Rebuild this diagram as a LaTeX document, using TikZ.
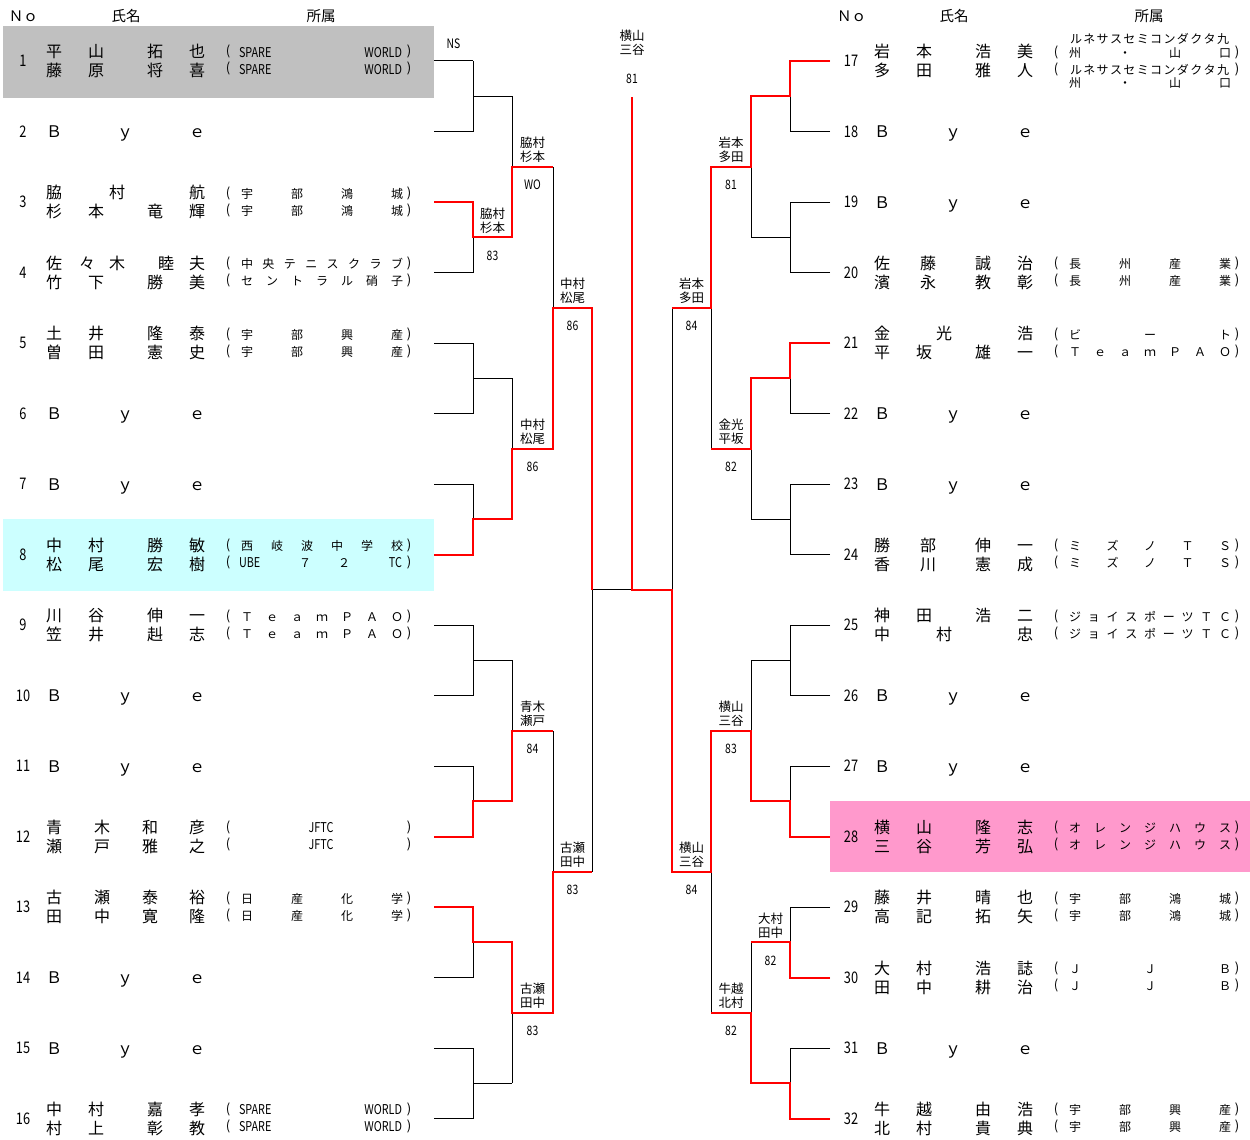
\documentclass[tikz,border=0pt]{standalone}
\usepackage{fontspec}
\setmainfont{Noto Sans CJK JP}
\usetikzlibrary{calc}
\definecolor{winred}{RGB}{255,0,0}
\definecolor{hlgray}{RGB}{192,192,192}
\definecolor{hlcyan}{RGB}{204,255,255}
\definecolor{hlpink}{RGB}{255,153,204}
\newcommand\cnd[1]{\scalebox{0.8}[1]{#1}}
\newcommand\setrow[1]{%
  \pgfmathsetmacro\Ryc{61+(#1-1)*70.5}%
  \pgfmathsetmacro\Rna{\Ryc-9.5}%
  \pgfmathsetmacro\Rnb{\Ryc+9.5}%
  \pgfmathsetmacro\Raa{\Ryc-8.5}%
  \pgfmathsetmacro\Rab{\Ryc+8.5}}
\newcommand\pno[2]{\node[num] (#1) at (23+\ox,\Ryc) {\cnd{#2}};}
\newcommand\nml[3]{\foreach \px/\ch [count=\ci] in {#3}{\node[nm] (#1-\ci) at (\px+\ox,#2) {\ch};}}
\newcommand\stdn[6]{\nml{#1}{#2}{54/#3,96/#4,155/#5,197/#6}}
\newcommand\bye[1]{\nml{#1}{\Ryc}{54/Ｂ,125/ｙ,197/ｅ}}
\newcommand\dst[5]{%
  \foreach \t [count=\ci] in {#5}{\xdef\dstn{\ci}}%
  \foreach \t [count=\ci] in {#5}{%
    \pgfmathsetmacro\xx{#3+(#4-#3)*(\ci-1)/max(\dstn-1,1)+\ox}%
    \node[af] (#1-\ci) at (\xx,#2) {\t};}}
\newcommand\paren[2]{\node[par] (#1-l) at (228+\ox,#2) {(};\node[par] (#1-r) at (409+\ox,#2) {)};}
\newcommand\aff[3]{\paren{#1}{#2}\dst{#1}{#2}{247}{397}{#3}}
\newcommand\spw[2]{\paren{#1}{#2}%
  \node[afl,anchor=west] (#1-a) at (239+\ox,#2) {\cnd{SPARE}};%
  \node[afl,anchor=east] (#1-b) at (402+\ox,#2) {\cnd{WORLD}};}
\newcommand\mlab[6]{%
  \node[lbl] (#1lab-#2-#3a) at ($(#1S-#2-#3)!0.5!(#1E-#2-#3)+(0,-24)$) {#4};
  \node[lbl] (#1lab-#2-#3b) at ($(#1S-#2-#3)!0.5!(#1E-#2-#3)+(0,-10)$) {#5};
  \node[sc] (#1scr-#2-#3) at ($(#1S-#2-#3)!0.5!(#1E-#2-#3)+(0,18)$) {\cnd{#6}};}
\begin{document}
\begin{tikzpicture}[x=1pt,y=-1pt,
  blk/.style={line width=1pt,draw=black},
  win/.style={line width=2pt,draw=winred},
  txt/.style={inner sep=0pt,outer sep=0pt,text=black},
  nm/.style={txt,font=\fontsize{16}{16}\selectfont,text height=14pt,text depth=2pt},
  af/.style={txt,font=\fontsize{12}{12}\selectfont,text height=10.5pt,text depth=1.5pt},
  afl/.style={txt,font=\fontsize{13.5}{13.5}\selectfont,text height=10.8pt,text depth=1pt},
  par/.style={txt,font=\fontsize{13}{13}\selectfont,text height=10pt,text depth=3pt},
  num/.style={txt,font=\fontsize{16}{16}\selectfont,text height=11.7pt,text depth=0pt},
  hdr/.style={txt,font=\fontsize{14.5}{14.5}\selectfont,text height=13pt,text depth=2pt},
  lbl/.style={txt,font=\fontsize{12.5}{12.5}\selectfont,text height=11pt,text depth=1.5pt},
  sc/.style={txt,font=\fontsize{13}{13}\selectfont,text height=9.5pt,text depth=0pt}]
\useasboundingbox (0,0) rectangle (1250,1140);
\fill[white] (0,0) rectangle (1250,1140);
% highlights
\fill[hlgray] (3,26) rectangle (434,97.5);
\fill[hlcyan] (3,519) rectangle (434,590.5);
\fill[hlpink] (830,801) rectangle (1250,871.5);
% headers
\node[hdr] (hN1) at (23.5,16) {Ｎｏ};
\node[hdr] (hS1) at (126,16) {氏名};
\node[hdr] (hA1) at (321,16) {所属};
\node[hdr] (hN2) at (851.5,16) {Ｎｏ};
\node[hdr] (hS2) at (954,16) {氏名};
\node[hdr] (hA2) at (1149,16) {所属};
% bracket coordinates
\foreach \r/\n/\ys/\dy in {0/16/61/70.5,1/8/96.25/141,2/4/166.75/282,3/2/307.75/564,4/1/589.75/0}{
  \pgfmathsetmacro\xa{{434,473,512,553,592,632}[\r]}
  \pgfmathsetmacro\xb{{434,473,512,553,592,632}[\r+1]}
  \pgfmathsetmacro\xc{{830,790,751,711,672,632}[\r]}
  \pgfmathsetmacro\xd{{830,790,751,711,672,632}[\r+1]}
  \foreach \k in {1,...,\n}{
    \pgfmathsetmacro\yy{\ys+(\k-1)*\dy}
    \coordinate (LS-\r-\k) at (\xa,\yy);
    \coordinate (LE-\r-\k) at (\xb,\yy);
    \coordinate (RS-\r-\k) at (\xc,\yy);
    \coordinate (RE-\r-\k) at (\xd,\yy);
  }
}
\coordinate (TOP) at (632,96.75);
% black structure
\foreach \r/\n in {0/16,1/8,2/4,3/2,4/1}{
  \foreach \k in {1,...,\n}{
    \draw[blk] (LS-\r-\k) -- (LE-\r-\k);
    \draw[blk] (RS-\r-\k) -- (RE-\r-\k);
  }
}
\foreach \r/\m in {0/8,1/4,2/2,3/1}{
  \foreach \k in {1,...,\m}{
    \pgfmathtruncatemacro\ka{2*\k-1}
    \pgfmathtruncatemacro\kb{2*\k}
    \draw[blk] (LE-\r-\ka) -- (LE-\r-\kb);
    \draw[blk] (RE-\r-\ka) -- (RE-\r-\kb);
  }
}
% winners (red)
\draw[win] (LS-0-3) -- (LE-0-3) |- (LE-1-2) |- (LE-2-1);
\draw[win] (LS-0-8) -- (LE-0-8) |- (LE-1-4) |- (LE-2-2) |- (LE-3-1) -- (LS-4-1);
\draw[win] (LS-0-12) -- (LE-0-12) |- (LE-1-6) |- (LE-2-3);
\draw[win] (LS-0-13) -- (LE-0-13) |- (LE-1-7) |- (LE-2-4) |- (LE-3-2);
\draw[win] (RS-0-1) -- (RE-0-1) |- (RE-1-1) |- (RE-2-1) |- (RE-3-1);
\draw[win] (RS-0-5) -- (RE-0-5) |- (RE-1-3) |- (RE-2-2);
\draw[win] (RS-0-12) -- (RE-0-12) |- (RE-1-6) |- (RE-2-3) |- (RE-3-2) -- (RS-4-1) -- (RE-4-1) -- (TOP);
\draw[win] (RS-0-14) -- (RE-0-14) |- (RE-1-7);
\draw[win] (RS-0-16) -- (RE-0-16) |- (RE-1-8) |- (RE-2-4);
% match labels
\node[sc] (lNS) at ($(LS-0-1)!0.5!(LE-0-1)+(0,-17)$) {\cnd{NS}};
\mlab{L}{1}{2}{脇村}{杉本}{83}
\mlab{L}{2}{1}{脇村}{杉本}{WO}
\mlab{L}{2}{2}{中村}{松尾}{86}
\mlab{L}{3}{1}{中村}{松尾}{86}
\mlab{L}{2}{3}{青木}{瀬戸}{84}
\mlab{L}{2}{4}{古瀬}{田中}{83}
\mlab{L}{3}{2}{古瀬}{田中}{83}
\mlab{R}{2}{1}{岩本}{多田}{81}
\mlab{R}{3}{1}{岩本}{多田}{84}
\mlab{R}{2}{2}{金光}{平坂}{82}
\mlab{R}{2}{3}{横山}{三谷}{83}
\mlab{R}{3}{2}{横山}{三谷}{84}
\mlab{R}{1}{7}{大村}{田中}{82}
\mlab{R}{2}{4}{牛越}{北村}{82}
\node[lbl] (chA) at ($(TOP)+(0,-61)$) {横山};
\node[lbl] (chB) at ($(TOP)+(0,-47)$) {三谷};
\node[sc] (chS) at ($(TOP)+(0,-18)$) {\cnd{81}};
% ---------------- left players
\def\ox{0}
\setrow{1}\pno{n1}{1}
\stdn{p1a}{\Rna}{平}{山}{拓}{也}
\stdn{p1b}{\Rnb}{藤}{原}{将}{喜}
\spw{a1a}{\Raa}\spw{a1b}{\Rab}
\setrow{2}\pno{n2}{2}\bye{p2}
\setrow{3}\pno{n3}{3}
\nml{p3a}{\Rna}{54/脇,117/村,197/航}
\stdn{p3b}{\Rnb}{杉}{本}{竜}{輝}
\aff{a3a}{\Raa}{宇,部,鴻,城}\aff{a3b}{\Rab}{宇,部,鴻,城}
\setrow{4}\pno{n4}{4}
\nml{p4a}{\Rna}{54/佐,87/々,117/木,166/睦,197/夫}
\stdn{p4b}{\Rnb}{竹}{下}{勝}{美}
\aff{a4a}{\Raa}{中,央,テ,ニ,ス,ク,ラ,ブ}\aff{a4b}{\Rab}{セ,ン,ト,ラ,ル,硝,子}
\setrow{5}\pno{n5}{5}
\stdn{p5a}{\Rna}{土}{井}{隆}{泰}
\stdn{p5b}{\Rnb}{曽}{田}{憲}{史}
\aff{a5a}{\Raa}{宇,部,興,産}\aff{a5b}{\Rab}{宇,部,興,産}
\setrow{6}\pno{n6}{6}\bye{p6}
\setrow{7}\pno{n7}{7}\bye{p7}
\setrow{8}\pno{n8}{8}
\stdn{p8a}{\Rna}{中}{村}{勝}{敏}
\stdn{p8b}{\Rnb}{松}{尾}{宏}{樹}
\aff{a8a}{\Raa}{西,岐,波,中,学,校}
\paren{a8b}{\Rab}
\node[afl,anchor=west] (a8b-1) at (239+\ox,\Rab) {\cnd{UBE}};
\node[af] (a8b-2) at (305+\ox,\Rab) {７};
\node[af] (a8b-3) at (344+\ox,\Rab) {２};
\node[afl,anchor=east] (a8b-4) at (402+\ox,\Rab) {\cnd{TC}};
\setrow{9}\pno{n9}{9}
\stdn{p9a}{\Rna}{川}{谷}{伸}{一}
\stdn{p9b}{\Rnb}{笠}{井}{赳}{志}
\aff{a9a}{\Raa}{Ｔ,ｅ,ａ,ｍ,Ｐ,Ａ,Ｏ}\aff{a9b}{\Rab}{Ｔ,ｅ,ａ,ｍ,Ｐ,Ａ,Ｏ}
\setrow{10}\pno{n10}{10}\bye{p10}
\setrow{11}\pno{n11}{11}\bye{p11}
\setrow{12}\pno{n12}{12}
\nml{p12a}{\Rna}{54/青,102/木,150/和,197/彦}
\nml{p12b}{\Rnb}{54/瀬,102/戸,150/雅,197/之}
\paren{a12a}{\Raa}\node[afl] (a12a-1) at (321+\ox,\Raa) {\cnd{JFTC}};
\paren{a12b}{\Rab}\node[afl] (a12b-1) at (321+\ox,\Rab) {\cnd{JFTC}};
\setrow{13}\pno{n13}{13}
\nml{p13a}{\Rna}{54/古,102/瀬,150/泰,197/裕}
\nml{p13b}{\Rnb}{54/田,102/中,150/寛,197/隆}
\aff{a13a}{\Raa}{日,産,化,学}\aff{a13b}{\Rab}{日,産,化,学}
\setrow{14}\pno{n14}{14}\bye{p14}
\setrow{15}\pno{n15}{15}\bye{p15}
\setrow{16}\pno{n16}{16}
\stdn{p16a}{\Rna}{中}{村}{嘉}{孝}
\stdn{p16b}{\Rnb}{村}{上}{彰}{教}
\spw{a16a}{\Raa}\spw{a16b}{\Rab}
% ---------------- right players
\def\ox{828}
\setrow{1}\pno{n17}{17}
\stdn{p17a}{\Rna}{岩}{本}{浩}{美}
\stdn{p17b}{\Rnb}{多}{田}{雅}{人}
\dst{a17x}{\Ryc-22}{248}{395}{ル,ネ,サ,ス,セ,ミ,コ,ン,ダ,ク,タ,九}
\paren{a17y}{\Ryc-8}\dst{a17y}{\Ryc-8}{247}{397}{州,・,山,口}
\paren{a17z}{\Ryc+9}\dst{a17z}{\Ryc+9}{248}{395}{ル,ネ,サ,ス,セ,ミ,コ,ン,ダ,ク,タ,九}
\dst{a17w}{\Ryc+22}{247}{397}{州,・,山,口}
\setrow{2}\pno{n18}{18}\bye{p18}
\setrow{3}\pno{n19}{19}\bye{p19}
\setrow{4}\pno{n20}{20}
\nml{p20a}{\Rna}{54/佐,100/藤,155/誠,197/治}
\nml{p20b}{\Rnb}{54/濱,100/永,155/教,197/彰}
\aff{a20a}{\Raa}{長,州,産,業}\aff{a20b}{\Rab}{長,州,産,業}
\setrow{5}\pno{n21}{21}
\nml{p21a}{\Rna}{54/金,116/光,197/浩}
\stdn{p21b}{\Rnb}{平}{坂}{雄}{一}
\aff{a21a}{\Raa}{ビ,ー,ト}\aff{a21b}{\Rab}{Ｔ,ｅ,ａ,ｍ,Ｐ,Ａ,Ｏ}
\setrow{6}\pno{n22}{22}\bye{p22}
\setrow{7}\pno{n23}{23}\bye{p23}
\setrow{8}\pno{n24}{24}
\nml{p24a}{\Rna}{54/勝,100/部,155/伸,197/一}
\nml{p24b}{\Rnb}{54/香,100/川,155/憲,197/成}
\aff{a24a}{\Raa}{ミ,ズ,ノ,Ｔ,Ｓ}\aff{a24b}{\Rab}{ミ,ズ,ノ,Ｔ,Ｓ}
\setrow{9}\pno{n25}{25}
\stdn{p25a}{\Rna}{神}{田}{浩}{二}
\nml{p25b}{\Rnb}{54/中,116/村,197/忠}
\aff{a25a}{\Raa}{ジ,ョ,イ,ス,ポ,ー,ツ,Ｔ,Ｃ}\aff{a25b}{\Rab}{ジ,ョ,イ,ス,ポ,ー,ツ,Ｔ,Ｃ}
\setrow{10}\pno{n26}{26}\bye{p26}
\setrow{11}\pno{n27}{27}\bye{p27}
\setrow{12}\pno{n28}{28}
\stdn{p28a}{\Rna}{横}{山}{隆}{志}
\stdn{p28b}{\Rnb}{三}{谷}{芳}{弘}
\aff{a28a}{\Raa}{オ,レ,ン,ジ,ハ,ウ,ス}\aff{a28b}{\Rab}{オ,レ,ン,ジ,ハ,ウ,ス}
\setrow{13}\pno{n29}{29}
\stdn{p29a}{\Rna}{藤}{井}{晴}{也}
\stdn{p29b}{\Rnb}{高}{記}{拓}{矢}
\aff{a29a}{\Raa}{宇,部,鴻,城}\aff{a29b}{\Rab}{宇,部,鴻,城}
\setrow{14}\pno{n30}{30}
\stdn{p30a}{\Rna}{大}{村}{浩}{誌}
\stdn{p30b}{\Rnb}{田}{中}{耕}{治}
\aff{a30a}{\Raa}{Ｊ,Ｊ,Ｂ}\aff{a30b}{\Rab}{Ｊ,Ｊ,Ｂ}
\setrow{15}\pno{n31}{31}\bye{p31}
\setrow{16}\pno{n32}{32}
\stdn{p32a}{\Rna}{牛}{越}{由}{浩}
\stdn{p32b}{\Rnb}{北}{村}{貴}{典}
\aff{a32a}{\Raa}{宇,部,興,産}\aff{a32b}{\Rab}{宇,部,興,産}
\end{tikzpicture}
\end{document}
